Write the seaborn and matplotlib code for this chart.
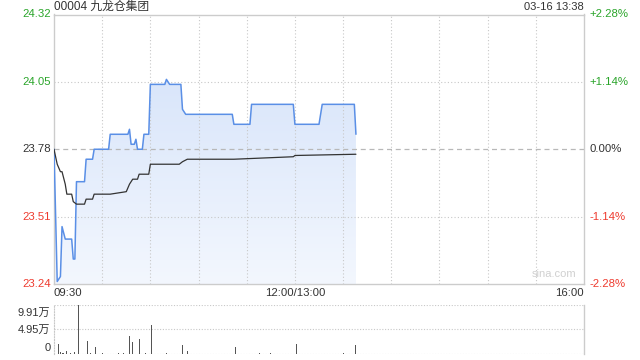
import numpy as np
import pandas as pd
import matplotlib
matplotlib.use("Agg")
import matplotlib.pyplot as plt
import seaborn as sns
from matplotlib.colors import LinearSegmentedColormap
from matplotlib.patches import PathPatch

# ---------------- data ----------------
title_text = "00004 九龙仓集团"
time_text = "03-16 13:38"
prev_close = 23.78
price_ticks = [24.32, 24.05, 23.78, 23.51, 23.24]
pct_labels = ["+2.28%", "+1.14%", "0.00%", "-1.14%", "-2.28%"]
x_labels = ["09:30", "12:00/13:00", "16:00"]
vol_tick_labels = ["9.91万", "4.95万", "0"]
vol_ticks = [99100, 49500, 0]

price_min = [0, 2, 4, 5, 7, 11, 12, 13, 14, 19, 20, 24, 25, 34, 35, 46, 47, 48, 50, 51,
             52, 55, 56, 59, 60, 69, 70, 72, 79, 80, 81, 82, 111, 112, 122, 123, 149,
             150, 165, 167, 187, 188]
price_val = [23.78, 23.25, 23.27, 23.47, 23.42, 23.42, 23.34, 23.34, 23.65, 23.65, 23.74,
             23.74, 23.78, 23.78, 23.84, 23.84, 23.86, 23.80, 23.80, 23.82, 23.78, 23.78,
             23.84, 23.84, 24.04, 24.04, 24.06, 24.04, 24.04, 23.94, 23.93, 23.92, 23.92,
             23.88, 23.88, 23.96, 23.96, 23.88, 23.88, 23.96, 23.96, 23.84]

avg_min = [0, 2, 4, 5, 7, 8, 11, 12, 14, 19, 20, 24, 25, 35, 45, 47, 49, 52, 53, 59, 60,
           78, 80, 83, 112, 149, 150, 188]
avg_val = [23.78, 23.72, 23.69, 23.69, 23.64, 23.60, 23.60, 23.57, 23.56, 23.56, 23.58,
           23.58, 23.60, 23.60, 23.61, 23.64, 23.66, 23.66, 23.68, 23.68, 23.72, 23.72,
           23.73, 23.74, 23.74, 23.75, 23.755, 23.76]

vol_min = [3, 4, 5, 6, 8, 9, 10, 13, 15, 17, 21, 23, 26, 28, 30, 33, 37, 40, 43, 47, 49,
           53, 57, 61, 65, 70, 75, 80, 83, 90, 100, 113, 120, 128, 135, 142, 151, 160,
           170, 180, 188]
vol_val = [20000, 3500, 1200, 2000, 6500, 1000, 1500, 4000, 99100, 1000, 26800, 1200,
           13400, 1000, 1500, 1500, 1000, 2000, 1200, 35500, 24000, 30800, 1200, 59000,
           1000, 1200, 1000, 18800, 6500, 1000, 1000, 13400, 1000, 1200, 2700, 1000,
           20800, 1000, 1000, 1200, 18800]

# ---------------- style ----------------
sns.set_theme(style="white")
plt.rcParams['font.family'] = ['Liberation Sans', 'Noto Sans CJK SC', 'DejaVu Sans']

GREEN = "#2aa52a"
RED = "#ee3b2f"
DARK = "#333333"
GRID = "#c8c8c8"
BORDER = "#cccccc"

W, H = 640, 360
fig = plt.figure(figsize=(6.4, 3.6), dpi=100)

def ax_rect(x0, y0, x1, y1):
    return [x0 / W, 1 - y1 / H, (x1 - x0) / W, (y1 - y0) / H]

ax = fig.add_axes(ax_rect(54, 14.5, 584, 284))
axv = fig.add_axes(ax_rect(54, 304.5, 584, 354))

XMAX = 330
pdf = pd.DataFrame({"m": price_min, "p": price_val})
adf = pd.DataFrame({"m": avg_min, "p": avg_val})
vdf = pd.DataFrame({"m": vol_min, "v": vol_val})

# gradient fill under price line
poly = ax.fill_between(pdf["m"], pdf["p"], price_ticks[-1], facecolor="none", edgecolor="none")
path = poly.get_paths()[0]
patch = PathPatch(path, transform=ax.transData, facecolor="none", edgecolor="none")
ax.add_patch(patch)
cmap = LinearSegmentedColormap.from_list("g", ["#f3f7fe", "#d1e0f9"])
grad = np.linspace(0, 1, 256).reshape(-1, 1)
im = ax.imshow(grad, extent=[0, XMAX, price_ticks[-1], price_ticks[0]], origin="lower",
               aspect="auto", cmap=cmap, zorder=1)
im.set_clip_path(patch)

sns.lineplot(data=pdf, x="m", y="p", ax=ax, color="#5a8fe6", linewidth=1.1, zorder=4,
             estimator=None, sort=False)
sns.lineplot(data=adf, x="m", y="p", ax=ax, color=DARK, linewidth=0.9, zorder=5,
             estimator=None, sort=False)

ax.set_xlim(0, XMAX)
ax.set_ylim(price_ticks[-1], price_ticks[0])
ax.set_xlabel("")
ax.set_ylabel("")
ax.set_xticks([])
ax.set_yticks([])

# gridlines
for m in range(30, XMAX, 30):
    ax.axvline(m, color=GRID, linestyle=(0, (1, 2)), linewidth=0.8, zorder=2)
for v in [price_ticks[1], price_ticks[3]]:
    ax.axhline(v, color=GRID, linestyle=(0, (1, 2)), linewidth=0.8, zorder=2)
ax.axhline(prev_close, color="#b8b8b8", linestyle=(0, (4, 3)), linewidth=0.9, zorder=2)

for s in ax.spines.values():
    s.set_color(BORDER)
    s.set_linewidth(1.0)

# y labels
lab_colors = [GREEN, GREEN, DARK, RED, RED]
for v, pl, c in zip(price_ticks, pct_labels, lab_colors):
    ax.text(-0.006, v, f"{v:.2f}", transform=ax.get_yaxis_transform(), ha="right",
            va="center", fontsize=8.2, color=c)
    ax.text(1.011, v, pl, transform=ax.get_yaxis_transform(), ha="left",
            va="center", fontsize=8.2, color=c)

fig.text(54 / W, 1 - 7 / H, title_text, ha="left", va="center", fontsize=8.5, color=DARK)
fig.text(584 / W, 1 - 7 / H, time_text, ha="right", va="center", fontsize=8.0, color=DARK)

# x labels
ylab = 1 - 293.5 / H
fig.text(54 / W, ylab, x_labels[0], ha="left", va="center", fontsize=8.2, color=DARK)
fig.text((54 + 150 / XMAX * 530) / W, ylab, x_labels[1], ha="center", va="center",
         fontsize=8.2, color=DARK)
fig.text(584 / W, ylab, x_labels[2], ha="right", va="center", fontsize=8.2, color=DARK)

ax.text(0.985, 0.02, "sina.com", transform=ax.transAxes, ha="right", va="bottom",
        fontsize=8, color="#d0d0d0")

# volume
sns.barplot(data=vdf, x="m", y="v", ax=axv, native_scale=True, color="#555555",
            width=0.6, linewidth=0, errorbar=None, saturation=1, zorder=3)
axv.set_xlim(0, XMAX)
axv.set_ylim(0, vol_ticks[0])
axv.set_xlabel("")
axv.set_ylabel("")
axv.set_xticks([])
axv.set_yticks([])
for v in vol_ticks:
    axv.axhline(v, color=GRID, linestyle=(0, (1, 1.5)), linewidth=0.8, zorder=1)
axv.spines["top"].set_visible(False)
axv.spines["bottom"].set_visible(False)
axv.spines["left"].set_color(GRID)
axv.spines["left"].set_linestyle((0, (1, 1.5)))
axv.spines["left"].set_linewidth(0.8)
axv.spines["right"].set_color(BORDER)
axv.spines["right"].set_linewidth(1.0)
# labels sit at evenly spaced pixel rows (as in the reference)
for ypx, t in zip([312.5, 330, 348], vol_tick_labels):
    fig.text(50.5 / W, 1 - ypx / H, t, ha="right", va="center", fontsize=8.0, color=DARK)

fig.savefig("out.png", dpi=100)
